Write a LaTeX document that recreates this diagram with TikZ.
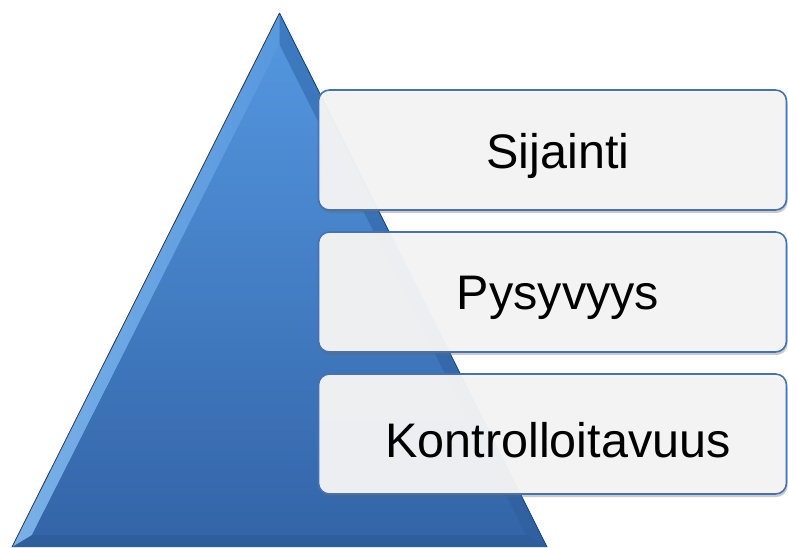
\documentclass[tikz,border=0pt]{standalone}
\usepackage{fontspec}
\setmainfont{Liberation Sans}
\usetikzlibrary{shadows}
\definecolor{triTop}{HTML}{4A90DC}
\definecolor{triBot}{HTML}{3365A8}
\definecolor{bevLight}{HTML}{8CC4F8}
\definecolor{boxLine}{HTML}{4A72AA}
\definecolor{boxFill}{HTML}{F6F6F6}
\tikzset{
  itembox/.style={draw=boxLine, line width=1.6pt, rounded corners=11pt,
    fill=boxFill, fill opacity=0.95,
    minimum width=468pt, minimum height=120pt, inner sep=0pt,
    drop shadow={shadow xshift=1pt, shadow yshift=-3pt, opacity=0.35, fill=black!60}},
  itemtext/.style={font=\fontsize{48.5}{56}\selectfont, inner sep=0pt, text=black},
}
\begin{document}
\begin{tikzpicture}[x=1pt,y=1pt]
\useasboundingbox (0,0) rectangle (788,547);
% pyramid
\coordinate (apex) at (279.5,534);
\coordinate (bl) at (12,0);
\coordinate (br) at (547,0);
\coordinate (iapex) at (279.5,502);
\coordinate (ibl) at (32,12);
\coordinate (ibr) at (526,12);
\shade[top color=triTop, bottom color=triBot] (apex) -- (bl) -- (br) -- cycle;
% bevel facets
\shade[left color=bevLight, right color=triTop!90!white, opacity=0.8] (apex) -- (bl) -- (ibl) -- (iapex) -- cycle;
\fill[triBot!85!black, opacity=0.35] (apex) -- (br) -- (ibr) -- (iapex) -- cycle;
\fill[triBot!80!black, opacity=0.35] (bl) -- (br) -- (ibr) -- (ibl) -- cycle;
\shade[top color=triTop!95!white, bottom color=triBot] (iapex) -- (ibl) -- (ibr) -- cycle;
\draw[triBot!60!black, line width=0.8pt] (apex) -- (bl) (apex) -- (br);
% boxes
\node[itembox] (b1) at (552.5,397) {};
\node[itembox] (b2) at (552.5,255) {};
\node[itembox] (b3) at (552.5,113) {};
\node[itemtext] (t1) at (558,391) {Sijainti};
\node[itemtext] (t2) at (558,249) {Pysyvyys};
\node[itemtext] (t3) at (558,107) {Kontrolloitavuus};
\end{tikzpicture}
\end{document}
